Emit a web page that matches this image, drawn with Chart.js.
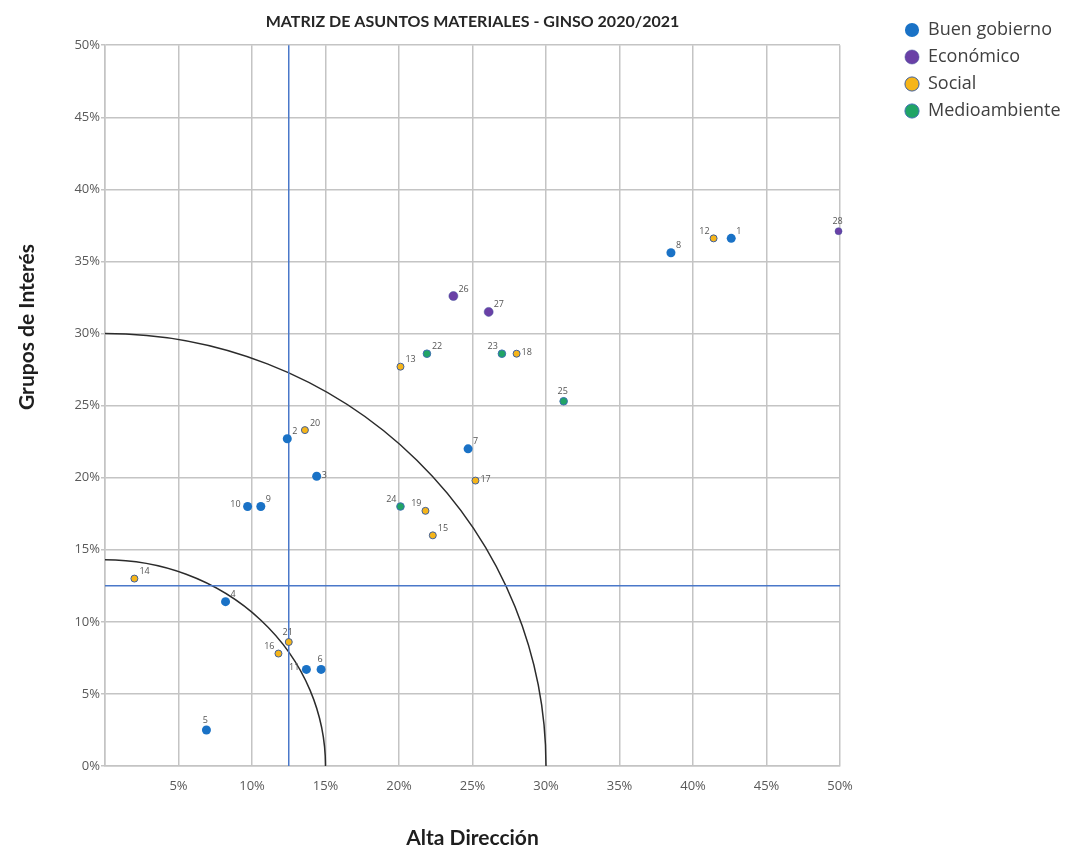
<!DOCTYPE html>
<html>
<head>
<meta charset="utf-8">
<script src="https://cdn.jsdelivr.net/npm/chart.js@4"></script>
<style>
  body { margin: 0; background: #fff; }
</style>
</head>
<body>
<canvas id="chartMatriz" width="1085" height="852"></canvas>
<script>
const categories = ['Buen gobierno', 'Económico', 'Social', 'Medioambiente'];

// Alta Dirección (x) / Grupos de Interés (y), in %
const buenGobiernoIds = [1, 2, 3, 4, 5, 6, 7, 8, 9, 10, 11];
const buenGobiernoX = [42.6, 12.4, 14.4, 8.2, 6.9, 14.7, 24.7, 38.5, 10.6, 9.7, 13.7];
const buenGobiernoY = [36.6, 22.7, 20.1, 11.4, 2.5, 6.7, 22.0, 35.6, 18.0, 18.0, 6.7];

const economicoIds = [26, 27, 28];
const economicoX = [23.7, 26.1, 49.9];
const economicoY = [32.6, 31.5, 37.1];

const socialIds = [12, 13, 14, 15, 16, 17, 18, 19, 20, 21];
const socialX = [41.4, 20.1, 2.0, 22.3, 11.8, 25.2, 28.0, 21.8, 13.6, 12.5];
const socialY = [36.6, 27.7, 13.0, 16.0, 7.8, 19.8, 28.6, 17.7, 23.3, 8.6];

const medioambienteIds = [22, 23, 24, 25];
const medioambienteX = [21.9, 27.0, 20.1, 31.2];
const medioambienteY = [28.6, 28.6, 18.0, 25.3];

const axisTicks = [0, 5, 10, 15, 20, 25, 30, 35, 40, 45, 50];
const umbral = 12.5;               // blue threshold lines
const arcos = [{x: 15, y: 14.3}, {x: 30, y: 30}];

// where each number label sits relative to its point (default: upper right)
const labelSide = {3: 'e', 5: 'n', 6: 'n', 10: 'w', 11: 'w', 12: 'nw', 16: 'nw', 17: 'e', 18: 'e',
  19: 'nw', 21: 'n', 23: 'nw', 24: 'nw', 25: 'n', 28: 'n'};

const toPoints = (xs, ys, ids) => xs.map((x, i) => ({x, y: ys[i], id: ids[i]}));

const guias = {
  id: 'guias',
  beforeDatasetsDraw(chart) {
    const {ctx, chartArea, scales: {x, y}} = chart;
    ctx.save();
    // quarter arcs
    const cx = x.getPixelForValue(0), cy = y.getPixelForValue(0);
    ctx.strokeStyle = '#2b2b2b';
    ctx.lineWidth = 1.5;
    arcos.forEach(a => {
      const rx = x.getPixelForValue(a.x) - cx;
      const ry = cy - y.getPixelForValue(a.y);
      ctx.beginPath();
      ctx.ellipse(cx, cy, rx, ry, 0, -Math.PI / 2, 0);
      ctx.stroke();
    });
    // threshold lines
    ctx.strokeStyle = '#4a78c9';
    ctx.lineWidth = 1.5;
    const ux = x.getPixelForValue(umbral), uy = y.getPixelForValue(umbral);
    ctx.beginPath();
    ctx.moveTo(ux, chartArea.top);
    ctx.lineTo(ux, chartArea.bottom);
    ctx.moveTo(chartArea.left, uy);
    ctx.lineTo(chartArea.right, uy);
    ctx.stroke();
    ctx.restore();
  },
  afterDatasetsDraw(chart) {
    const {ctx} = chart;
    ctx.save();
    ctx.font = '9px "Open Sans"';
    ctx.fillStyle = '#555';
    chart.data.datasets.forEach((ds, di) => {
      chart.getDatasetMeta(di).data.forEach((pt, i) => {
        const id = ds.data[i].id;
        const side = labelSide[id] || 'ne';
        let tx = pt.x, ty = pt.y;
        ctx.textBaseline = 'middle';
        if (side === 'ne') { ctx.textAlign = 'left'; tx += 5; ty -= 7; }
        if (side === 'e') { ctx.textAlign = 'left'; tx += 5; ty -= 1; }
        if (side === 'n') { ctx.textAlign = 'center'; tx -= 1; ty -= 10; }
        if (side === 'nw') { ctx.textAlign = 'right'; tx -= 4; ty -= 7; }
        if (side === 'w') { ctx.textAlign = 'right'; tx -= 7; ty -= 2; }
        ctx.fillText(String(id), tx, ty);
      });
    });
    ctx.restore();
  },
  afterDraw(chart) {
    const {ctx} = chart;
    ctx.save();
    ctx.translate(27, 327);
    ctx.rotate(-Math.PI / 2);
    ctx.font = 'bold 21px Lato';
    ctx.fillStyle = '#1e1e1e';
    ctx.textAlign = 'center';
    ctx.textBaseline = 'middle';
    ctx.fillText('Grupos de Interés', 0, 0);
    ctx.restore();
  }
};

const ctxMat = document.getElementById('chartMatriz').getContext('2d');
new Chart(ctxMat, {
  type: 'scatter',
  data: {
    datasets: [
      {
        label: categories[0],
        data: toPoints(buenGobiernoX, buenGobiernoY, buenGobiernoIds),
        backgroundColor: '#1a72c6',
        borderColor: '#1a72c6',
        borderWidth: 0,
        pointRadius: 4.5
      },
      {
        label: categories[1],
        data: toPoints(economicoX, economicoY, economicoIds),
        backgroundColor: '#6a40a6',
        borderColor: '#3f4f9a',
        borderWidth: 0.5,
        pointRadius: [4.5, 4.5, 3.5]
      },
      {
        label: categories[2],
        data: toPoints(socialX, socialY, socialIds),
        backgroundColor: '#f6b519',
        borderColor: '#3f5f9a',
        borderWidth: 1,
        pointRadius: 3.5
      },
      {
        label: categories[3],
        data: toPoints(medioambienteX, medioambienteY, medioambienteIds),
        backgroundColor: '#20a466',
        borderColor: '#3b6fb0',
        borderWidth: 1,
        pointRadius: 3.8
      }
    ]
  },
  plugins: [guias],
  options: {
    responsive: false,
    animation: false,
    clip: false,
    layout: {
      padding: {top: 12, right: 14}
    },
    scales: {
      x: {
        min: 0,
        max: 50,
        afterBuildTicks: s => { s.ticks = axisTicks.map(v => ({value: v})); },
        afterFit: s => { s.height = 86; s.paddingRight = 245; },
        ticks: {
          padding: 12,
          color: '#595959',
          font: {family: 'Open Sans', size: 13},
          callback: v => v === 0 ? '' : v + '%'
        },
        grid: {color: '#c4c4c4', lineWidth: 1.5, drawTicks: false},
        border: {color: '#c4c4c4', width: 1.5},
        title: {
          display: true,
          text: 'Alta Dirección',
          color: '#1e1e1e',
          font: {family: 'Lato', size: 21, weight: 'bold'},
          padding: {top: 0, bottom: 1}
        }
      },
      y: {
        min: 0,
        max: 50,
        afterBuildTicks: s => { s.ticks = axisTicks.map(v => ({value: v})); },
        afterFit: s => { s.width = 105; },
        ticks: {
          padding: 1,
          color: '#595959',
          font: {family: 'Open Sans', size: 13},
          callback: v => v + '%'
        },
        grid: {color: '#c4c4c4', lineWidth: 1.5, tickLength: 4},
        border: {color: '#c4c4c4', width: 1.5}
      },
      // empty spacer between plot and legend
      gap: {
        type: 'linear',
        position: 'right',
        display: true,
        afterFit: s => { s.width = 56; },
        ticks: {display: false},
        grid: {display: false},
        border: {display: false}
      }
    },
    plugins: {
      title: {
        display: true,
        fullSize: false,
        text: 'MATRIZ DE ASUNTOS MATERIALES - GINSO 2020/2021',
        color: '#262626',
        font: {family: 'Lato', size: 16, weight: 'bold'},
        padding: {top: 0, bottom: 14}
      },
      legend: {
        position: 'right',
        align: 'start',
        labels: {
          usePointStyle: true,
          pointStyle: 'circle',
          boxWidth: 14,
          boxHeight: 10,
          padding: 9,
          color: '#404040',
          font: {family: 'Open Sans', size: 18}
        }
      },
      tooltip: {
        callbacks: {
          label: ctx => `${ctx.raw.id}: ${ctx.parsed.x}% / ${ctx.parsed.y}%`
        }
      }
    }
  }
});
</script>
</body>
</html>
